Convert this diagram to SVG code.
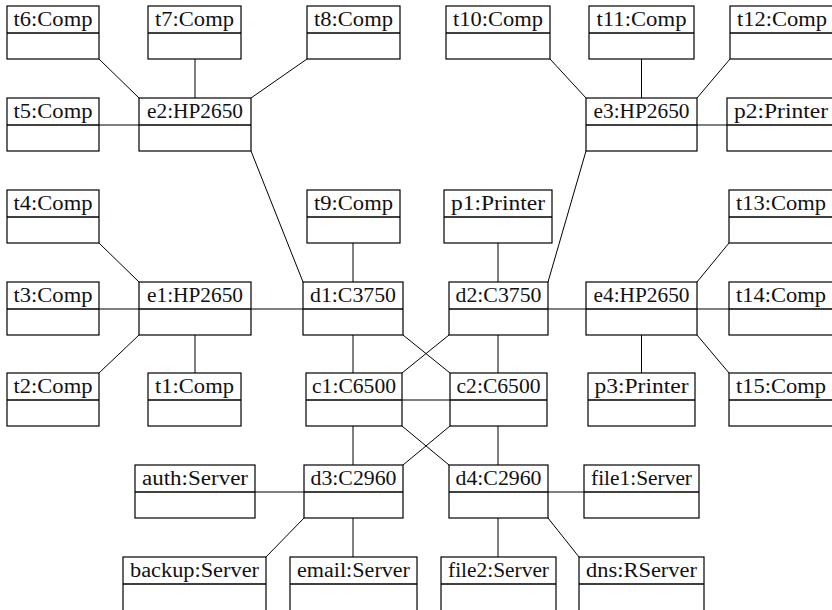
<svg xmlns="http://www.w3.org/2000/svg" width="832" height="610" viewBox="0 0 832 610">
  <style>
    .box { fill: #fff; stroke: #000; stroke-width: 1.2; }
    .div { stroke: #000; stroke-width: 1.7; }
    .lbl { font-family: "Liberation Serif", "Times New Roman", serif; font-size: 20px; fill: #111; text-anchor: middle; }
    .links line { stroke: #000; stroke-width: 1; fill: none; }
  </style>
  <rect width="832" height="610" fill="#fff"/>

  <!-- connectors -->
  <g id="connectors" class="links">
    <!-- e2 -->
    <line x1="99" y1="59" x2="139" y2="98"/>
    <line x1="195" y1="59" x2="195" y2="98"/>
    <line x1="307" y1="59" x2="251" y2="98"/>
    <line x1="99" y1="125" x2="139" y2="125"/>
    <line x1="251" y1="151" x2="303" y2="282"/>
    <!-- e3 -->
    <line x1="550" y1="59" x2="586" y2="98"/>
    <line x1="641.5" y1="59" x2="641.5" y2="98"/>
    <line x1="730" y1="59" x2="697" y2="98"/>
    <line x1="697" y1="125" x2="727" y2="125"/>
    <line x1="548" y1="282" x2="586" y2="151"/>
    <!-- e1 -->
    <line x1="99" y1="243" x2="139" y2="282"/>
    <line x1="99" y1="309" x2="139" y2="309"/>
    <line x1="251" y1="309" x2="303" y2="309"/>
    <line x1="99" y1="373" x2="139" y2="335"/>
    <line x1="195" y1="335" x2="195" y2="373"/>
    <!-- d1 -->
    <line x1="353" y1="243" x2="353" y2="282"/>
    <line x1="353" y1="335" x2="353" y2="373"/>
    <line x1="403" y1="335" x2="450" y2="373"/>
    <!-- d2 -->
    <line x1="449" y1="335" x2="402" y2="373"/>
    <line x1="498" y1="243" x2="498" y2="282"/>
    <line x1="498" y1="335" x2="498" y2="373"/>
    <line x1="548" y1="309" x2="586" y2="309"/>
    <!-- e4 -->
    <line x1="697" y1="282" x2="729" y2="243"/>
    <line x1="697" y1="309" x2="729" y2="309"/>
    <line x1="697" y1="335" x2="729" y2="373"/>
    <line x1="641.5" y1="335" x2="641.5" y2="373"/>
    <!-- core -->
    <line x1="402" y1="400" x2="450" y2="400"/>
    <line x1="353" y1="426" x2="353" y2="465"/>
    <line x1="402" y1="426" x2="449" y2="465"/>
    <line x1="450" y1="426" x2="403" y2="465"/>
    <line x1="498" y1="426" x2="498" y2="465"/>
    <!-- d3 -->
    <line x1="255" y1="492" x2="304" y2="492"/>
    <line x1="304" y1="518" x2="266" y2="557"/>
    <line x1="353" y1="518" x2="353" y2="557"/>
    <!-- d4 -->
    <line x1="548" y1="492" x2="584" y2="492"/>
    <line x1="498" y1="518" x2="498" y2="557"/>
    <line x1="548" y1="518" x2="579" y2="557"/>
  </g>

  <!-- row 0 -->
  <g id="t6"><rect class="box" x="7" y="6" width="92" height="53"/><line class="div" x1="7" y1="33" x2="99" y2="33"/><text class="lbl" x="53" y="26" textLength="79" lengthAdjust="spacingAndGlyphs">t6:Comp</text></g>
  <g id="t7"><rect class="box" x="148" y="6" width="93" height="53"/><line class="div" x1="148" y1="33" x2="241" y2="33"/><text class="lbl" x="194.5" y="26" textLength="79" lengthAdjust="spacingAndGlyphs">t7:Comp</text></g>
  <g id="t8"><rect class="box" x="307" y="6" width="93" height="53"/><line class="div" x1="307" y1="33" x2="400" y2="33"/><text class="lbl" x="353.5" y="26" textLength="79" lengthAdjust="spacingAndGlyphs">t8:Comp</text></g>
  <g id="t10"><rect class="box" x="446" y="6" width="104" height="53"/><line class="div" x1="446" y1="33" x2="550" y2="33"/><text class="lbl" x="498" y="26" textLength="90" lengthAdjust="spacingAndGlyphs">t10:Comp</text></g>
  <g id="t11"><rect class="box" x="589" y="6" width="105" height="53"/><line class="div" x1="589" y1="33" x2="694" y2="33"/><text class="lbl" x="641.5" y="26" textLength="90" lengthAdjust="spacingAndGlyphs">t11:Comp</text></g>
  <g id="t12"><rect class="box" x="730" y="6" width="104" height="53"/><line class="div" x1="730" y1="33" x2="834" y2="33"/><text class="lbl" x="782" y="26" textLength="90" lengthAdjust="spacingAndGlyphs">t12:Comp</text></g>

  <!-- row 1 -->
  <g id="t5"><rect class="box" x="7" y="98" width="92" height="53"/><line class="div" x1="7" y1="125" x2="99" y2="125"/><text class="lbl" x="53" y="118" textLength="79" lengthAdjust="spacingAndGlyphs">t5:Comp</text></g>
  <g id="e2"><rect class="box" x="139" y="98" width="112" height="53"/><line class="div" x1="139" y1="125" x2="251" y2="125"/><text class="lbl" x="195" y="118" textLength="96" lengthAdjust="spacingAndGlyphs">e2:HP2650</text></g>
  <g id="e3"><rect class="box" x="586" y="98" width="111" height="53"/><line class="div" x1="586" y1="125" x2="697" y2="125"/><text class="lbl" x="641.5" y="118" textLength="96" lengthAdjust="spacingAndGlyphs">e3:HP2650</text></g>
  <g id="p2"><rect class="box" x="727" y="98" width="108" height="53"/><line class="div" x1="727" y1="125" x2="835" y2="125"/><text class="lbl" x="781" y="118" textLength="94" lengthAdjust="spacingAndGlyphs">p2:Printer</text></g>

  <!-- row 2 -->
  <g id="t4"><rect class="box" x="7" y="190" width="92" height="53"/><line class="div" x1="7" y1="217" x2="99" y2="217"/><text class="lbl" x="53" y="210" textLength="79" lengthAdjust="spacingAndGlyphs">t4:Comp</text></g>
  <g id="t9"><rect class="box" x="307" y="190" width="93" height="53"/><line class="div" x1="307" y1="217" x2="400" y2="217"/><text class="lbl" x="353.5" y="210" textLength="79" lengthAdjust="spacingAndGlyphs">t9:Comp</text></g>
  <g id="p1"><rect class="box" x="444" y="190" width="108" height="53"/><line class="div" x1="444" y1="217" x2="552" y2="217"/><text class="lbl" x="498" y="210" textLength="94" lengthAdjust="spacingAndGlyphs">p1:Printer</text></g>
  <g id="t13"><rect class="box" x="729" y="190" width="104" height="53"/><line class="div" x1="729" y1="217" x2="833" y2="217"/><text class="lbl" x="781" y="210" textLength="90" lengthAdjust="spacingAndGlyphs">t13:Comp</text></g>

  <!-- row 3 -->
  <g id="t3"><rect class="box" x="7" y="282" width="92" height="53"/><line class="div" x1="7" y1="309" x2="99" y2="309"/><text class="lbl" x="53" y="302" textLength="79" lengthAdjust="spacingAndGlyphs">t3:Comp</text></g>
  <g id="e1"><rect class="box" x="139" y="282" width="112" height="53"/><line class="div" x1="139" y1="309" x2="251" y2="309"/><text class="lbl" x="195" y="302" textLength="96" lengthAdjust="spacingAndGlyphs">e1:HP2650</text></g>
  <g id="d1"><rect class="box" x="303" y="282" width="100" height="53"/><line class="div" x1="303" y1="309" x2="403" y2="309"/><text class="lbl" x="353" y="302" textLength="86" lengthAdjust="spacingAndGlyphs">d1:C3750</text></g>
  <g id="d2"><rect class="box" x="449" y="282" width="99" height="53"/><line class="div" x1="449" y1="309" x2="548" y2="309"/><text class="lbl" x="498.5" y="302" textLength="86" lengthAdjust="spacingAndGlyphs">d2:C3750</text></g>
  <g id="e4"><rect class="box" x="586" y="282" width="111" height="53"/><line class="div" x1="586" y1="309" x2="697" y2="309"/><text class="lbl" x="641.5" y="302" textLength="96" lengthAdjust="spacingAndGlyphs">e4:HP2650</text></g>
  <g id="t14"><rect class="box" x="729" y="282" width="104" height="53"/><line class="div" x1="729" y1="309" x2="833" y2="309"/><text class="lbl" x="781" y="302" textLength="90" lengthAdjust="spacingAndGlyphs">t14:Comp</text></g>

  <!-- row 4 -->
  <g id="t2"><rect class="box" x="7" y="373" width="92" height="53"/><line class="div" x1="7" y1="400" x2="99" y2="400"/><text class="lbl" x="53" y="393" textLength="79" lengthAdjust="spacingAndGlyphs">t2:Comp</text></g>
  <g id="t1"><rect class="box" x="148" y="373" width="93" height="53"/><line class="div" x1="148" y1="400" x2="241" y2="400"/><text class="lbl" x="194.5" y="393" textLength="79" lengthAdjust="spacingAndGlyphs">t1:Comp</text></g>
  <g id="c1"><rect class="box" x="306" y="373" width="96" height="53"/><line class="div" x1="306" y1="400" x2="402" y2="400"/><text class="lbl" x="354" y="393" textLength="84" lengthAdjust="spacingAndGlyphs">c1:C6500</text></g>
  <g id="c2"><rect class="box" x="450" y="373" width="97" height="53"/><line class="div" x1="450" y1="400" x2="547" y2="400"/><text class="lbl" x="498.5" y="393" textLength="84" lengthAdjust="spacingAndGlyphs">c2:C6500</text></g>
  <g id="p3"><rect class="box" x="588" y="373" width="107" height="53"/><line class="div" x1="588" y1="400" x2="695" y2="400"/><text class="lbl" x="641.5" y="393" textLength="94" lengthAdjust="spacingAndGlyphs">p3:Printer</text></g>
  <g id="t15"><rect class="box" x="729" y="373" width="104" height="53"/><line class="div" x1="729" y1="400" x2="833" y2="400"/><text class="lbl" x="781" y="393" textLength="90" lengthAdjust="spacingAndGlyphs">t15:Comp</text></g>

  <!-- row 5 -->
  <g id="auth"><rect class="box" x="135" y="465" width="120" height="53"/><line class="div" x1="135" y1="492" x2="255" y2="492"/><text class="lbl" x="195" y="485" textLength="106" lengthAdjust="spacingAndGlyphs">auth:Server</text></g>
  <g id="d3"><rect class="box" x="304" y="465" width="99" height="53"/><line class="div" x1="304" y1="492" x2="403" y2="492"/><text class="lbl" x="353.5" y="485" textLength="86" lengthAdjust="spacingAndGlyphs">d3:C2960</text></g>
  <g id="d4"><rect class="box" x="449" y="465" width="99" height="53"/><line class="div" x1="449" y1="492" x2="548" y2="492"/><text class="lbl" x="498.5" y="485" textLength="86" lengthAdjust="spacingAndGlyphs">d4:C2960</text></g>
  <g id="file1"><rect class="box" x="584" y="465" width="115" height="53"/><line class="div" x1="584" y1="492" x2="699" y2="492"/><text class="lbl" x="641.5" y="485" textLength="101" lengthAdjust="spacingAndGlyphs">file1:Server</text></g>

  <!-- row 6 -->
  <g id="backup"><rect class="box" x="123" y="557" width="143" height="54"/><line class="div" x1="123" y1="584" x2="266" y2="584"/><text class="lbl" x="194.5" y="577" textLength="129" lengthAdjust="spacingAndGlyphs">backup:Server</text></g>
  <g id="email"><rect class="box" x="290" y="557" width="127" height="54"/><line class="div" x1="290" y1="584" x2="417" y2="584"/><text class="lbl" x="353.5" y="577" textLength="113" lengthAdjust="spacingAndGlyphs">email:Server</text></g>
  <g id="file2"><rect class="box" x="441" y="557" width="115" height="54"/><line class="div" x1="441" y1="584" x2="556" y2="584"/><text class="lbl" x="498.5" y="577" textLength="101" lengthAdjust="spacingAndGlyphs">file2:Server</text></g>
  <g id="dns"><rect class="box" x="579" y="557" width="125" height="54"/><line class="div" x1="579" y1="584" x2="704" y2="584"/><text class="lbl" x="641.5" y="577" textLength="111" lengthAdjust="spacingAndGlyphs">dns:RServer</text></g>
</svg>
